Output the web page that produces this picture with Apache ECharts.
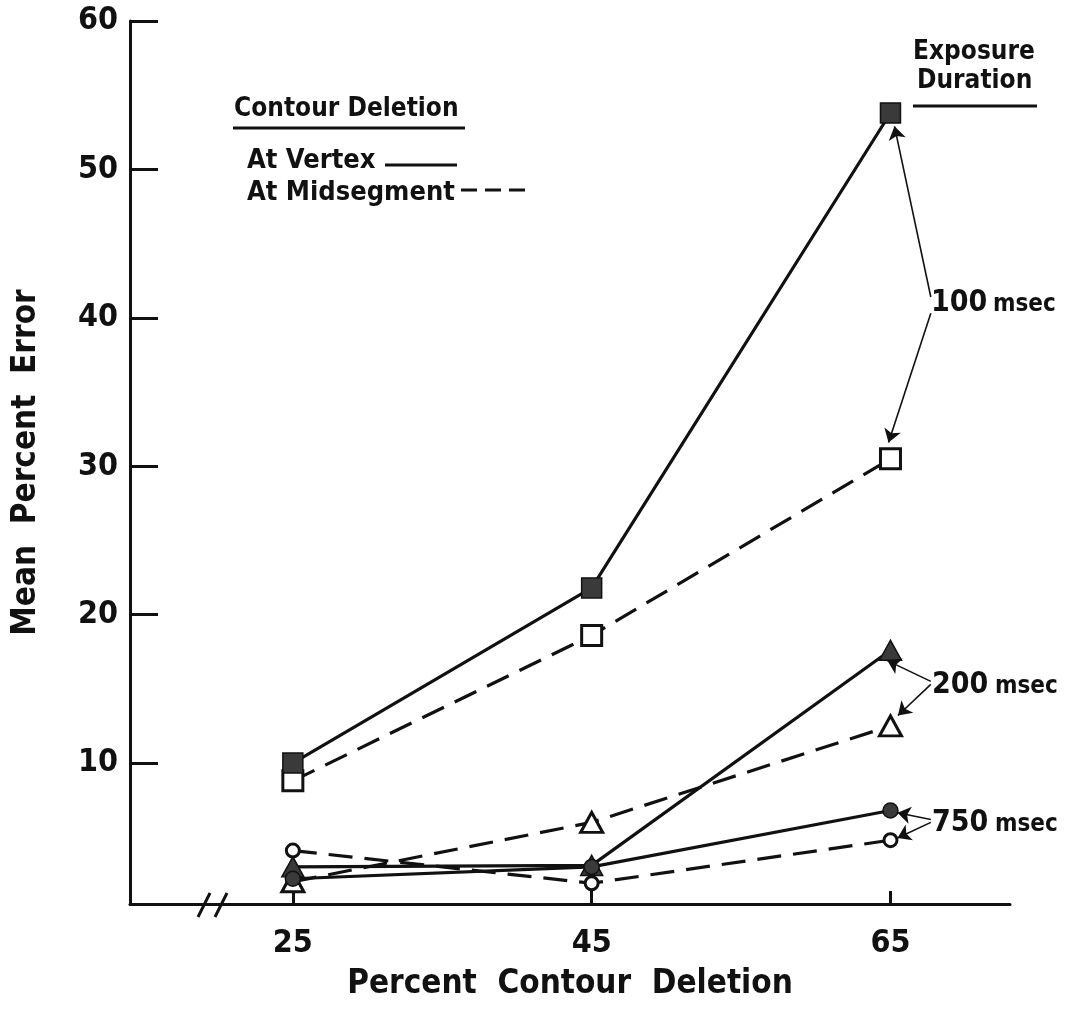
<!DOCTYPE html>
<html>
<head>
<meta charset="utf-8">
<script src="https://cdn.jsdelivr.net/npm/echarts@6/dist/echarts.min.js"></script>
<style>
  html, body { margin: 0; padding: 0; background: #fff; }
  #chart { width: 1068px; height: 1014px; }
</style>
</head>
<body>
<div id="chart"></div>
<script>
// percent contour deletion (x)
const deletion = [25, 45, 65];
const xTicks = [25, 45, 65];
const yTicks = [10, 20, 30, 40, 50, 60];

// mean percent error
const vertex100 = [10.0, 21.8, 53.8];
const midseg100 = [8.8, 18.6, 30.5];
const vertex200 = [3.0, 3.1, 17.6];
const midseg200 = [2.0, 6.0, 12.5];
const vertex750 = [2.2, 3.0, 6.8];
const midseg750 = [4.1, 1.9, 4.8];

// annotation arrows: [from label, to marker] in data units
const arrows100 = [[[67.7, 41.4], [65.27, 52.9]], [[67.7, 40.3], [64.87, 31.6]]];
const arrows200 = [[[67.7, 15.5], [64.79, 16.9]], [[67.7, 15.3], [65.5, 13.2]]];
const arrows750 = [[[67.7, 6.2], [65.47, 6.65]], [[67.7, 6.0], [65.47, 4.95]]];

const FONT = "'Liberation Sans Narrow', 'DejaVu Sans Condensed', 'Liberation Sans', sans-serif";
const INK = '#111';
const FILL = '#3a3a3a';

function pts(vals) {
  return deletion.map((d, i) => [d, vals[i]]);
}

function makeSeries(name, vals, dashed, symbol, size, filled) {
  return {
    name: name,
    type: 'line',
    data: pts(vals),
    symbol: symbol,
    symbolSize: size,
    showAllSymbol: true,
    lineStyle: { color: INK, width: 3.2, type: dashed ? [24, 12] : 'solid' },
    itemStyle: {
      color: filled ? FILL : '#fff',
      borderColor: INK,
      borderWidth: filled ? 1.5 : 3
    },
    emphasis: { disabled: true },
    animation: false,
    z: filled ? 3 : 2
  };
}

const arrowData = arrows100.concat(arrows200, arrows750).map(a => [
  { coord: a[0] }, { coord: a[1] }
]);

const chart = echarts.init(document.getElementById('chart'));

const textStyle = (t, x, y, size) => ({
  type: 'text',
  style: {
    text: t, x: x, y: y,
    font: 'bold ' + size + 'px ' + FONT,
    fill: INK,
    textVerticalAlign: 'middle'
  },
  silent: true
});

let option = {
  backgroundColor: '#fff',
  animation: false,
  grid: { left: 130, right: 58, top: 21, bottom: 110, containLabel: false, outerBoundsMode: 'none' },
  xAxis: {
    type: 'value',
    min: 14.1,
    max: 73,
    name: 'Percent  Contour  Deletion',
    nameLocation: 'middle',
    nameGap: 64,
    nameTextStyle: { fontFamily: FONT, fontWeight: 'bold', fontSize: 33, color: INK },
    axisLine: { lineStyle: { color: INK, width: 3 } },
    axisTick: { inside: true, length: 13, lineStyle: { color: INK, width: 3 }, customValues: xTicks },
    axisLabel: { customValues: xTicks, margin: 24, fontFamily: FONT, fontWeight: 'bold', fontSize: 32, color: INK },
    splitLine: { show: false }
  },
  yAxis: {
    type: 'value',
    min: 0.5,
    max: 60,
    name: 'Mean  Percent  Error',
    nameLocation: 'middle',
    nameRotate: 90,
    nameGap: 87,
    nameTextStyle: { fontFamily: FONT, fontWeight: 'bold', fontSize: 33, color: INK },
    axisLine: { lineStyle: { color: INK, width: 3 } },
    axisTick: { inside: true, length: 28, lineStyle: { color: INK, width: 3 }, customValues: yTicks },
    axisLabel: { customValues: yTicks, margin: 12, fontFamily: FONT, fontWeight: 'bold', fontSize: 32, color: INK },
    splitLine: { show: false }
  },
  series: [
    makeSeries('100 msec midsegment', midseg100, true, 'rect', 20, false),
    makeSeries('200 msec midsegment', midseg200, true, 'triangle', [22, 20], false),
    makeSeries('750 msec midsegment', midseg750, true, 'circle', 13, false),
    makeSeries('200 msec vertex', vertex200, false, 'triangle', [22, 20], true),
    makeSeries('750 msec vertex', vertex750, false, 'circle', 15, true),
    Object.assign(makeSeries('100 msec vertex', vertex100, false, 'rect', 20, true), {
      markLine: {
        silent: true,
        animation: false,
        symbol: ['none', 'arrow'],
        symbolSize: 13,
        label: { show: false },
        lineStyle: { color: INK, width: 1.6, type: 'solid' },
        emphasis: { disabled: true },
        data: arrowData
      }
    })
  ],
  graphic: [
    // axis break
    { type: 'rect', shape: { x: 207, y: 899, width: 10, height: 10 }, style: { fill: '#fff' }, silent: true },
    { type: 'line', shape: { x1: 198, y1: 917, x2: 210, y2: 893 }, style: { stroke: INK, lineWidth: 3 }, silent: true },
    { type: 'line', shape: { x1: 215, y1: 917, x2: 227, y2: 893 }, style: { stroke: INK, lineWidth: 3 }, silent: true },

    // line-style key
    textStyle('Contour Deletion', 234, 109, 26),
    { type: 'line', shape: { x1: 233, y1: 128, x2: 465, y2: 128 }, style: { stroke: INK, lineWidth: 3 }, silent: true },
    textStyle('At Vertex', 247, 161, 27),
    { type: 'line', shape: { x1: 385, y1: 165, x2: 457, y2: 165 }, style: { stroke: INK, lineWidth: 3 }, silent: true },
    textStyle('At Midsegment', 247, 193, 27),
    { type: 'line', shape: { x1: 461, y1: 190, x2: 525, y2: 190 }, style: { stroke: INK, lineWidth: 3, lineDash: [16, 8] }, silent: true },

    // exposure duration key
    textStyle('Exposure', 913, 52, 26),
    textStyle('Duration', 917, 81, 26),
    { type: 'line', shape: { x1: 913, y1: 106, x2: 1037, y2: 106 }, style: { stroke: INK, lineWidth: 3 }, silent: true },

    textStyle('100', 931, 303, 30),
    textStyle('msec', 993, 305, 24),
    textStyle('200', 932, 685, 30),
    textStyle('msec', 995, 687, 24),
    textStyle('750', 932, 823, 30),
    textStyle('msec', 995, 825, 24)
  ]
};

chart.setOption(option);
</script>
</body>
</html>
